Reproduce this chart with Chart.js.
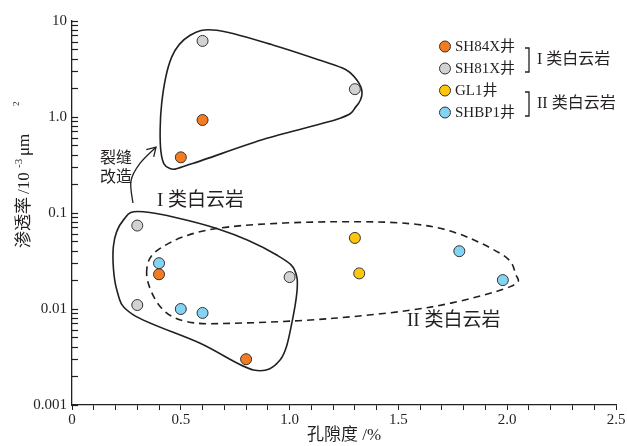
<!DOCTYPE html>
<html>
<head>
<meta charset="utf-8">
<script src="https://cdn.jsdelivr.net/npm/chart.js@4.4.0/dist/chart.umd.min.js"></script>
<style>
html, body { margin: 0; padding: 0; background: #fff; }
</style>
</head>
<body>
<canvas id="myChart" width="627" height="446"></canvas>
<script>
// porosity (%) / permeability (10^-3 um^2) for each well
var sh84xPor = [0.6, 0.5, 0.4, 0.8];
var sh84xPerm = [0.93, 0.38, 0.023, 0.003];
var sh81xPor = [0.6, 1.3, 0.3, 1.0, 0.3];
var sh81xPerm = [6.2, 1.95, 0.074, 0.0215, 0.011];
var gl1Por = [1.3, 1.32];
var gl1Perm = [0.055, 0.0235];
var shbp1Por = [0.4, 0.5, 0.6, 1.78, 1.98];
var shbp1Perm = [0.030, 0.010, 0.0091, 0.040, 0.020];

// hand drawn outlines (in porosity / permeability units)
var fracOutlinePor = [0.543, 0.665, 0.926, 1.14, 1.255, 1.31, 1.333, 1.306, 1.232, 0.895, 0.558, 0.45, 0.409, 0.412, 0.458];
var fracOutlinePerm = [7.1, 8.0, 5.6, 3.9, 3.14, 2.41, 1.77, 1.29, 0.97, 0.60, 0.33, 0.29, 0.43, 1.38, 4.2];
var typeIOutlinePor = [0.328, 0.665, 0.941, 1.033, 1.01, 0.956, 0.834, 0.589, 0.282, 0.206, 0.19, 0.236];
var typeIOutlinePerm = [0.103, 0.069, 0.0365, 0.0217, 0.0071, 0.00294, 0.00232, 0.0044, 0.0087, 0.0158, 0.0445, 0.0843];
var typeIIOutlinePor = [0.343, 0.405, 0.665, 1.201, 1.661, 1.968, 2.037, 2.014, 1.661, 1.201, 0.742, 0.527, 0.405];
var typeIIOutlinePerm = [0.0235, 0.0428, 0.069, 0.081, 0.0718, 0.038, 0.0235, 0.0171, 0.0106, 0.008, 0.0071, 0.0074, 0.0106];
var arrowPor = [0.28, 0.271, 0.313, 0.386];
var arrowPerm = [0.127, 0.216, 0.33, 0.485];

// axis ticks
var xTickValues = [0, 0.5, 1.0, 1.5, 2.0, 2.5];
var xTickLabels = ['0', '0.5', '1.0', '1.5', '2.0', '2.5'];
var yTickValues = [0.001, 0.01, 0.1, 1, 10];
var yTickLabels = ['0.001', '0.01', '0.1', '1.0', '10'];

var serif = "'Liberation Serif', 'Noto Sans CJK SC', serif";
var ink = '#231f20';

function pts(por, perm) {
  return por.map(function (v, i) { return { x: v, y: perm[i] }; });
}

function toPx(chart, por, perm) {
  var sx = chart.scales.x, sy = chart.scales.y;
  return por.map(function (v, i) {
    return { x: sx.getPixelForValue(v), y: sy.getPixelForValue(perm[i]) };
  });
}

function curve(ctx, p, closed) {
  var n = p.length;
  var get = function (i) {
    if (closed) return p[(i + n) % n];
    return p[Math.max(0, Math.min(n - 1, i))];
  };
  var segs = closed ? n : n - 1;
  ctx.beginPath();
  ctx.moveTo(p[0].x, p[0].y);
  for (var i = 0; i < segs; i++) {
    var p0 = get(i - 1), p1 = get(i), p2 = get(i + 1), p3 = get(i + 2);
    ctx.bezierCurveTo(
      p1.x + (p2.x - p0.x) / 6, p1.y + (p2.y - p0.y) / 6,
      p2.x - (p3.x - p1.x) / 6, p2.y - (p3.y - p1.y) / 6,
      p2.x, p2.y);
  }
  if (closed) ctx.closePath();
  ctx.stroke();
}

var outlines = {
  id: 'outlines',
  beforeDatasetsDraw: function (chart) {
    var ctx = chart.ctx;
    ctx.save();
    ctx.strokeStyle = ink;
    ctx.lineWidth = 1.6;
    curve(ctx, toPx(chart, fracOutlinePor, fracOutlinePerm), true);
    curve(ctx, toPx(chart, typeIOutlinePor, typeIOutlinePerm), true);
    ctx.setLineDash([7, 5]);
    curve(ctx, toPx(chart, typeIIOutlinePor, typeIIOutlinePerm), true);
    ctx.setLineDash([]);
    // arrow
    var a = toPx(chart, arrowPor, arrowPerm);
    ctx.lineWidth = 1.3;
    curve(ctx, a, false);
    var tip = a[a.length - 1], prev = a[a.length - 2];
    var ang = Math.atan2(tip.y - prev.y, tip.x - prev.x);
    ctx.beginPath();
    ctx.moveTo(tip.x - 10 * Math.cos(ang - 0.55), tip.y - 10 * Math.sin(ang - 0.55));
    ctx.lineTo(tip.x, tip.y);
    ctx.lineTo(tip.x - 10 * Math.cos(ang + 0.55), tip.y - 10 * Math.sin(ang + 0.55));
    ctx.stroke();
    ctx.restore();
  },
  afterDraw: function (chart) {
    var ctx = chart.ctx;
    ctx.save();
    ctx.fillStyle = ink;
    ctx.textBaseline = 'middle';
    ctx.textAlign = 'left';
    // annotations
    ctx.font = '16px ' + serif;
    ctx.fillText('裂缝', 100, 159);
    ctx.fillText('改造', 100, 178);
    ctx.font = '19px ' + serif;
    ctx.fillText('I 类白云岩', 157, 201);
    ctx.fillText('II 类白云岩', 407, 321);

    // y axis title (reads bottom to top)
    ctx.save();
    ctx.translate(25, 248);
    ctx.rotate(-Math.PI / 2);
    ctx.font = '17px ' + serif;
    ctx.fillText('渗透率', 0, 0);
    ctx.fillText('/10', 54, 0);
    ctx.font = '11px ' + serif;
    ctx.fillText('-3', 80, -6);
    ctx.font = '17px ' + serif;
    ctx.fillText('μm', 92, 0);
    ctx.font = '9px ' + serif;
    ctx.fillText('2', 142, -8);
    ctx.restore();

    // legend
    var rows = [46.5, 68.5, 90.5, 112.5];
    chart.data.datasets.forEach(function (ds, i) {
      ctx.beginPath();
      ctx.arc(445, rows[i], 5.5, 0, Math.PI * 2);
      ctx.fillStyle = ds.backgroundColor;
      ctx.fill();
      ctx.lineWidth = 1;
      ctx.strokeStyle = '#333';
      ctx.stroke();
      ctx.fillStyle = ink;
      ctx.font = '15px ' + serif;
      ctx.fillText(ds.label, 455, rows[i] + 1);
    });
    ctx.strokeStyle = ink;
    ctx.lineWidth = 1.3;
    [[48, 72], [92, 116]].forEach(function (b) {
      ctx.beginPath();
      ctx.moveTo(525, b[0]);
      ctx.lineTo(529, b[0]);
      ctx.lineTo(529, b[1]);
      ctx.lineTo(525, b[1]);
      ctx.stroke();
    });
    ctx.font = '16px ' + serif;
    ctx.fillText('I 类白云岩', 537, 60);
    ctx.fillText('II 类白云岩', 537, 104);
    ctx.restore();
  }
};

function makeSet(label, por, perm, color) {
  return {
    label: label,
    data: pts(por, perm),
    backgroundColor: color,
    borderColor: '#333',
    borderWidth: 1,
    pointRadius: 5.5,
    pointHoverRadius: 5.5
  };
}

var ctx = document.getElementById('myChart');
var myChart = new Chart(ctx, {
  type: 'scatter',
  data: {
    datasets: [
      makeSet('SH84X井', sh84xPor, sh84xPerm, '#f47b20'),
      makeSet('SH81X井', sh81xPor, sh81xPerm, '#d2d2d2'),
      makeSet('GL1井', gl1Por, gl1Perm, '#ffc60b'),
      makeSet('SHBP1井', shbp1Por, shbp1Perm, '#84d3f3')
    ]
  },
  options: {
    responsive: false,
    animation: false,
    clip: false,
    layout: { padding: { top: 21, right: 11, left: 0, bottom: 0 } },
    plugins: { legend: { display: false }, tooltip: { enabled: false } },
    scales: {
      x: {
        type: 'linear',
        min: 0,
        max: 2.5,
        afterFit: function (s) { s.height = 41; },
        border: { display: true, color: ink, width: 1.3 },
        grid: { drawOnChartArea: false, drawTicks: true, tickLength: 5, color: ink },
        ticks: {
          stepSize: 0.1,
          autoSkip: false,
          maxRotation: 0,
          padding: 1,
          color: ink,
          font: { family: serif, size: 15 },
          callback: function (v) {
            for (var i = 0; i < xTickValues.length; i++) {
              if (Math.abs(v - xTickValues[i]) < 1e-6) return xTickLabels[i];
            }
            return '';
          }
        },
        title: {
          display: true,
          text: '孔隙度 /%',
          color: ink,
          padding: 0,
          font: { family: serif, size: 17, lineHeight: 1.2 }
        }
      },
      y: {
        type: 'logarithmic',
        min: 0.001,
        max: 10,
        afterFit: function (s) { s.width = 72; },
        afterBuildTicks: function (s) {
          var t = [];
          for (var e = -3; e <= 1; e++) {
            for (var m = 1; m <= 9; m++) {
              var v = m * Math.pow(10, e);
              if (v <= 10.0001) t.push({ value: v });
              if (e === 1) break;
            }
          }
          s.ticks = t;
        },
        border: { display: true, color: ink, width: 1.3 },
        // negative length puts the tick marks inside the plot
        grid: {
          drawOnChartArea: false,
          drawTicks: true,
          tickLength: -6,
          tickWidth: 1.2,
          tickColor: ink
        },
        ticks: {
          autoSkip: false,
          padding: 11,
          color: ink,
          font: { family: serif, size: 15 },
          callback: function (v) {
            for (var i = 0; i < yTickValues.length; i++) {
              if (Math.abs(v / yTickValues[i] - 1) < 1e-6) return yTickLabels[i];
            }
            return '';
          }
        }
      }
    }
  },
  plugins: [outlines]
});
</script>
</body>
</html>
